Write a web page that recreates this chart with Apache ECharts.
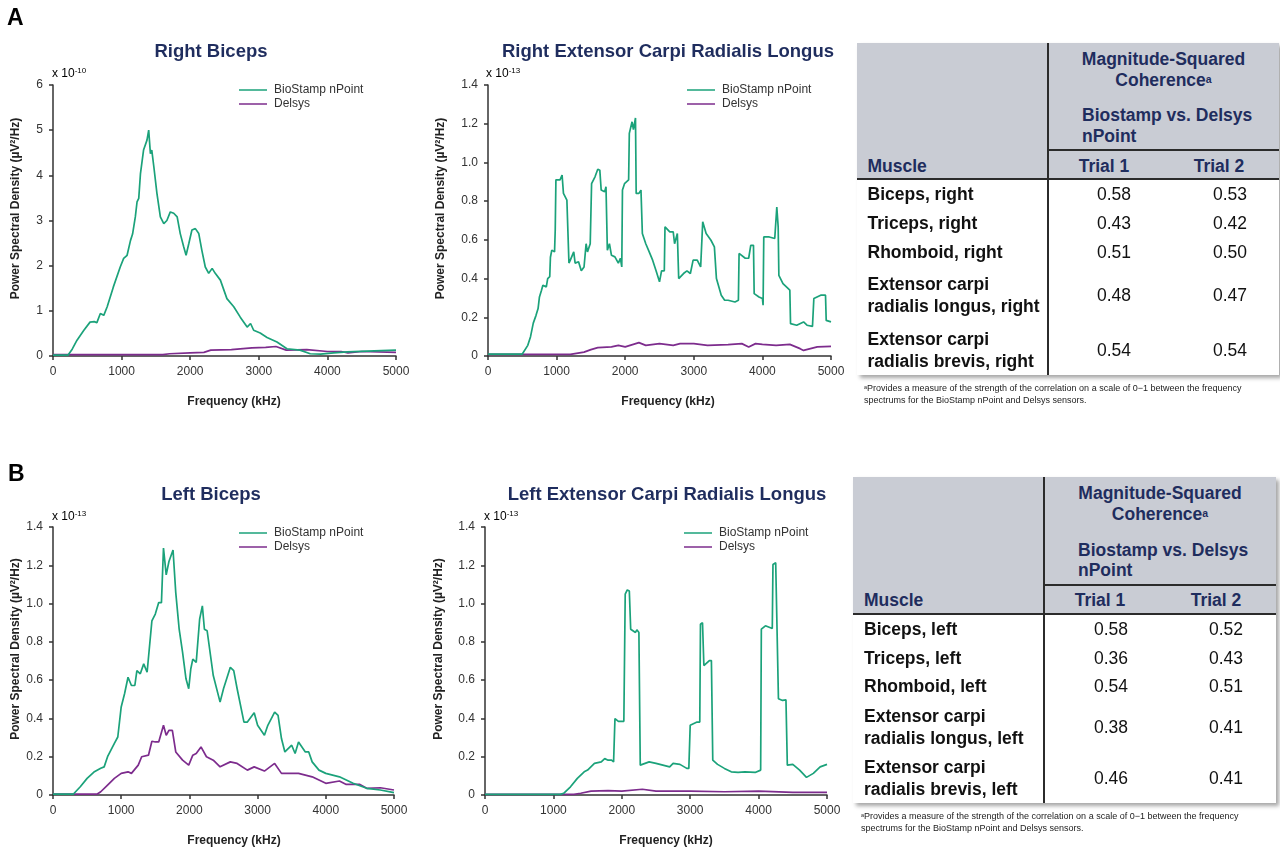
<!DOCTYPE html>
<html><head><meta charset="utf-8">
<script src="https://cdn.jsdelivr.net/npm/echarts@6/dist/echarts.min.js"></script>
<style>
html,body{margin:0;padding:0;background:#fff;}
#chart{position:absolute;left:0;top:0;width:1280px;height:848px;}
.tbl{position:absolute;background:#fff;box-shadow:3px 3px 4px rgba(0,0,0,0.35);font-family:'Liberation Sans',Arial,sans-serif;}
.hdr{position:absolute;left:0;top:0;background:#c9ccd4;}
.ln{position:absolute;background:#2b2b2b;}
.t{position:absolute;white-space:nowrap;line-height:20px;height:20px;font-size:17.5px;}
.h{color:#1f2d5e;font-weight:bold;}
.nm{color:#111;font-weight:bold;}
.v{color:#111;}
.c{transform:translateX(-50%);}
.fn{position:absolute;font-family:'Liberation Sans',Arial,sans-serif;font-size:9px;line-height:12px;color:#222;white-space:nowrap;}
sup{font-size:0.6em;vertical-align:top;position:relative;top:-1px;}
</style>
</head><body>
<div id="chart"></div>
<script>
// ---------- data ----------
// Right Biceps (x 1e-10)
var rbBioFreq = [0,220,280,350,450,540,600,640,690,740,790,880,980,1030,1080,1130,1160,1200,1225,1250,1275,1320,1370,1395,1420,1440,1470,1515,1565,1615,1660,1710,1760,1810,1855,1905,1940,1980,2025,2075,2125,2170,2220,2270,2320,2365,2440,2535,2635,2730,2830,2880,2925,3020,3120,3265,3410,3600,3750,3900,4090,4290,4580,5000];
var rbBio = [0.02,0.02,0.15,0.35,0.57,0.75,0.76,0.74,0.94,0.9,1.09,1.53,1.97,2.16,2.23,2.56,2.7,3.08,3.41,3.49,4.04,4.56,4.78,5.0,4.48,4.56,4.19,3.6,3.08,2.93,3.0,3.19,3.16,3.08,2.71,2.42,2.23,2.49,2.79,2.82,2.71,2.34,1.97,1.83,1.94,1.83,1.68,1.27,1.09,0.86,0.64,0.72,0.57,0.51,0.41,0.31,0.16,0.13,0.05,0.04,0.07,0.09,0.11,0.13];
var rbDelFreq = [0,1600,1700,2000,2200,2300,2600,2900,3100,3250,3400,3700,4000,4200,4300,4500,5000];
var rbDel = [0.03,0.03,0.05,0.07,0.08,0.13,0.14,0.18,0.19,0.21,0.13,0.14,0.1,0.1,0.07,0.1,0.08];

// Right Extensor Carpi Radialis Longus (x 1e-13)
var reBioFreq = [0,500,520,580,620,660,700,730,750,780,800,850,870,900,910,930,970,980,990,1050,1080,1100,1150,1180,1200,1250,1270,1320,1360,1400,1430,1450,1490,1510,1560,1600,1630,1650,1700,1720,1740,1770,1800,1850,1900,1930,1950,1960,1990,2050,2060,2100,2120,2150,2160,2200,2230,2250,2300,2350,2400,2450,2500,2530,2570,2580,2650,2700,2720,2760,2780,2850,2900,2950,2990,3050,3100,3130,3180,3250,3300,3330,3400,3450,3500,3600,3650,3660,3750,3800,3830,3870,3880,3950,4000,4010,4020,4100,4180,4210,4230,4240,4300,4400,4410,4500,4600,4650,4730,4750,4850,4920,4930,5000];
var reBio = [0.01,0.01,0.02,0.055,0.1,0.17,0.21,0.245,0.305,0.34,0.365,0.357,0.4,0.41,0.51,0.547,0.538,0.65,0.91,0.91,0.935,0.84,0.805,0.48,0.495,0.538,0.48,0.487,0.44,0.46,0.58,0.538,0.58,0.89,0.926,0.965,0.96,0.857,0.848,0.874,0.547,0.58,0.52,0.512,0.48,0.505,0.46,0.857,0.89,0.91,1.15,1.21,1.17,1.23,0.84,0.84,0.857,0.633,0.58,0.538,0.495,0.44,0.383,0.44,0.44,0.667,0.641,0.641,0.58,0.633,0.4,0.426,0.44,0.426,0.495,0.495,0.46,0.693,0.633,0.598,0.564,0.4,0.314,0.288,0.288,0.279,0.288,0.53,0.505,0.505,0.572,0.572,0.322,0.305,0.297,0.262,0.615,0.615,0.607,0.77,0.667,0.417,0.374,0.34,0.167,0.159,0.176,0.159,0.153,0.297,0.314,0.314,0.184,0.176];
var reDelFreq = [0,1200,1400,1500,1600,1800,1900,2000,2200,2300,2500,2700,2800,3000,3200,3500,3700,3800,3900,4000,4200,4400,4550,4600,4700,4800,5000];
var reDel = [0.008,0.008,0.02,0.033,0.043,0.047,0.055,0.047,0.069,0.055,0.064,0.055,0.064,0.064,0.055,0.059,0.064,0.047,0.064,0.06,0.055,0.06,0.038,0.029,0.038,0.047,0.05];

// Left Biceps (x 1e-13)
var lbBioFreq = [0,300,400,500,600,700,750,800,900,950,1000,1050,1100,1150,1200,1230,1280,1330,1380,1450,1500,1550,1590,1620,1660,1700,1760,1800,1850,1900,1950,1990,2020,2050,2100,2150,2190,2220,2260,2350,2450,2500,2600,2650,2700,2800,2850,2950,3000,3100,3150,3250,3300,3350,3400,3500,3550,3600,3700,3750,3800,3900,4000,4200,4400,4600,4800,5000];
var lbBio = [0.005,0.005,0.043,0.087,0.12,0.14,0.147,0.2,0.27,0.303,0.46,0.53,0.615,0.572,0.572,0.65,0.633,0.685,0.641,0.91,0.945,1.005,1.005,1.29,1.15,1.22,1.28,1.057,0.866,0.745,0.607,0.555,0.658,0.71,0.693,0.918,0.988,0.866,0.858,0.624,0.485,0.555,0.667,0.65,0.555,0.381,0.381,0.43,0.364,0.312,0.364,0.433,0.416,0.295,0.225,0.26,0.217,0.277,0.225,0.225,0.173,0.13,0.113,0.095,0.061,0.035,0.026,0.012];
var lbDelFreq = [0,650,700,800,900,1000,1100,1150,1250,1300,1400,1450,1500,1550,1620,1660,1700,1750,1800,1900,1990,2050,2100,2170,2250,2350,2450,2600,2700,2850,2950,3100,3250,3350,3450,3600,3800,3900,4000,4200,4300,4500,4600,4800,5000];
var lbDel = [0.005,0.005,0.017,0.052,0.087,0.113,0.121,0.113,0.156,0.2,0.208,0.281,0.277,0.277,0.364,0.312,0.338,0.338,0.225,0.182,0.156,0.208,0.217,0.251,0.2,0.182,0.147,0.173,0.165,0.13,0.147,0.125,0.165,0.113,0.113,0.113,0.095,0.078,0.061,0.073,0.055,0.055,0.035,0.038,0.026];

// Left Extensor Carpi Radialis Longus (x 1e-13)
var leBioFreq = [0,1100,1150,1250,1350,1450,1500,1600,1700,1750,1800,1850,1880,1900,1950,2030,2050,2080,2110,2130,2200,2220,2250,2270,2400,2500,2700,2750,2850,2950,2980,3000,3100,3140,3150,3180,3200,3280,3310,3330,3400,3500,3600,3700,3800,3950,4030,4040,4100,4200,4210,4250,4270,4290,4350,4400,4420,4500,4600,4700,4800,4900,5000];
var leBio = [0.003,0.003,0.009,0.043,0.087,0.121,0.13,0.165,0.173,0.19,0.182,0.182,0.173,0.399,0.385,0.385,1.049,1.071,1.066,0.866,0.849,0.863,0.849,0.156,0.173,0.165,0.147,0.165,0.16,0.139,0.139,0.364,0.381,0.381,0.892,0.9,0.676,0.702,0.702,0.182,0.16,0.139,0.121,0.118,0.121,0.118,0.13,0.866,0.884,0.87,1.204,1.213,1.204,0.503,0.494,0.497,0.156,0.16,0.13,0.092,0.113,0.147,0.16];
var leDelFreq = [0,1300,1400,1550,1800,2000,2300,2500,3000,3500,4000,4500,5000];
var leDel = [0.003,0.003,0.009,0.02,0.023,0.02,0.03,0.02,0.02,0.017,0.02,0.014,0.014];

var panelTitles = ['Right Biceps','Right Extensor Carpi Radialis Longus','Left Biceps','Left Extensor Carpi Radialis Longus'];
var exponents = ['-10','-13','-13','-13'];
var yMax = [6,1.4,1.4,1.4];
var yStep = [1,0.2,0.2,0.2];
var seriesNames = ['BioStamp nPoint','Delsys'];

// table data
var tblAMuscle = ['Biceps, right','Triceps, right','Rhomboid, right','Extensor carpi|radialis longus, right','Extensor carpi|radialis brevis, right'];
var tblATrial1 = [0.58,0.43,0.51,0.48,0.54];
var tblATrial2 = [0.53,0.42,0.50,0.47,0.54];
var tblBMuscle = ['Biceps, left','Triceps, left','Rhomboid, left','Extensor carpi|radialis longus, left','Extensor carpi|radialis brevis, left'];
var tblBTrial1 = [0.58,0.36,0.54,0.38,0.46];
var tblBTrial2 = [0.52,0.43,0.51,0.41,0.41];

// ---------- chart ----------
var FONT = "'Liberation Sans', Arial, sans-serif";
var GREEN = '#1ba27a', PURPLE = '#7d2c8d';
function zip(a,b){return a.map(function(x,i){return [x,b[i]];});}
var panels = [
  {bio:zip(rbBioFreq,rbBio), del:zip(rbDelFreq,rbDel), grid:{left:53,top:85,width:343,height:271}, title:[211,42], legend:[239,83], expo:[52,74], ytitle:15, xtitle:234},
  {bio:zip(reBioFreq,reBio), del:zip(reDelFreq,reDel), grid:{left:488,top:85,width:343,height:271}, title:[668,42], legend:[687,83], expo:[486,74], ytitle:440, xtitle:668},
  {bio:zip(lbBioFreq,lbBio), del:zip(lbDelFreq,lbDel), grid:{left:53,top:527,width:341,height:270}, title:[211,485], legend:[239,526], expo:[52,517], ytitle:15, xtitle:234},
  {bio:zip(leBioFreq,leBio), del:zip(leDelFreq,leDel), grid:{left:485,top:527,width:342,height:270}, title:[667,485], legend:[684,526], expo:[484,517], ytitle:438, xtitle:666}
];
var axisLineStyle = {color:'#333', width:1.5};
var option = {animation:false, backgroundColor:'#fff', textStyle:{fontFamily:FONT},
  grid:[], xAxis:[], yAxis:[], series:[], title:[], legend:[],
  graphic:[
    {type:'text', x:7, y:19, style:{text:'A', font:'bold 23px '+FONT, fill:'#000', verticalAlign:'middle'}},
    {type:'text', x:8, y:475, style:{text:'B', font:'bold 23px '+FONT, fill:'#000', verticalAlign:'middle'}}
  ]};
panels.forEach(function(p,i){
  option.grid.push(p.grid);
  option.xAxis.push({gridIndex:i, type:'value', min:0, max:5000, interval:1000,
    axisLine:{show:true, onZero:false, lineStyle:axisLineStyle},
    axisTick:{show:true, length:4, lineStyle:axisLineStyle},
    axisLabel:{fontSize:12, color:'#333', margin:10, fontFamily:FONT, formatter:function(v){return String(v);}},
    splitLine:{show:false},
    name:'Frequency (kHz)', nameLocation:'middle', nameGap:40,
    nameTextStyle:{fontSize:12, fontWeight:'bold', color:'#222', fontFamily:FONT, padding:[0,0,0,(p.xtitle-(p.grid.left+p.grid.width/2))*2]}
  });
  var step = yStep[i];
  option.yAxis.push({gridIndex:i, type:'value', min:0, max:yMax[i], interval:step,
    axisLine:{show:true, lineStyle:axisLineStyle},
    axisTick:{show:true, length:4, lineStyle:axisLineStyle},
    axisLabel:{fontSize:12, color:'#333', margin:10, fontFamily:FONT,
      formatter:function(v){ return v===0 ? '0' : (step<1 ? v.toFixed(1) : String(v)); }},
    splitLine:{show:false},
    name:'Power Spectral Density (µV²/Hz)', nameLocation:'middle', nameGap:p.grid.left-p.ytitle-7,
    nameTextStyle:{fontSize:12, fontWeight:'bold', color:'#222', fontFamily:FONT, padding:[0,0,0,24]}
  });
  option.series.push({name:seriesNames[1], type:'line', xAxisIndex:i, yAxisIndex:i, data:p.del, showSymbol:false, symbol:'none', lineStyle:{width:1.7, color:PURPLE}, itemStyle:{color:PURPLE}, z:2});
  option.series.push({name:seriesNames[0], type:'line', xAxisIndex:i, yAxisIndex:i, data:p.bio, showSymbol:false, symbol:'none', lineStyle:{width:1.7, color:GREEN}, itemStyle:{color:GREEN}, z:3});
  option.title.push({text:panelTitles[i], left:p.title[0], top:p.title[1], textAlign:'center', padding:0,
    textStyle:{fontSize:18.5, fontWeight:'bold', color:'#1f2d5e', fontFamily:FONT}});
  option.legend.push({data:seriesNames, orient:'vertical', left:p.legend[0], top:p.legend[1], padding:0,
    icon:'rect', itemWidth:28, itemHeight:1.5, itemGap:0, textStyle:{fontSize:12, color:'#333', fontFamily:FONT, padding:[0,0,0,2], lineHeight:14}});
  option.graphic.push({type:'text', x:p.expo[0], y:p.expo[1], style:{
    text:'{a|x 10}{b|'+exponents[i]+'}', verticalAlign:'middle',
    rich:{a:{fontSize:12, color:'#333', fontFamily:FONT, lineHeight:14}, b:{fontSize:8, color:'#333', fontFamily:FONT, verticalAlign:'top', lineHeight:14, padding:[0,0,6,0]}}}});
});
var chart = echarts.init(document.getElementById('chart'), null, {renderer:'canvas'});
chart.setOption(option);

// ---------- tables ----------
function el(parent, cls, css, html){var d=document.createElement('div'); d.className=cls; Object.assign(d.style,css); if(html!==undefined) d.innerHTML=html; parent.appendChild(d); return d;}
function buildTable(cfg){
  var t = el(document.body,'tbl',{left:cfg.left+'px',top:cfg.top+'px',width:cfg.w+'px',height:cfg.h+'px'});
  el(t,'hdr',{width:cfg.w+'px',height:cfg.hh+'px'});
  el(t,'ln',{left:'0px',top:(cfg.hh-1)+'px',width:cfg.w+'px',height:'2px'});
  el(t,'ln',{left:(cfg.div-0.75)+'px',top:'0px',width:'1.5px',height:cfg.h+'px'});
  el(t,'ln',{left:cfg.div+'px',top:(cfg.inner-0.75)+'px',width:(cfg.w-cfg.div)+'px',height:'1.5px'});
  var mid = (cfg.div+cfg.w)/2;
  function txt(cls,x,cy,html,center){ el(t,'t '+cls+(center?' c':''),{left:x+'px',top:(cy-10)+'px'},html); }
  txt('h',mid,cfg.hy[0],'Magnitude-Squared',true);
  txt('h',mid,cfg.hy[1],'Coherence<sup>a</sup>',true);
  txt('h',cfg.bx,cfg.hy[2],'Biostamp vs. Delsys');
  txt('h',cfg.bx,cfg.hy[3],'nPoint');
  txt('h',cfg.mx,cfg.hy[4],'Muscle');
  txt('h',cfg.t1x,cfg.hy[4],'Trial 1',true);
  txt('h',cfg.t2x,cfg.hy[4],'Trial 2',true);
  cfg.muscles.forEach(function(m,i){
    var parts = m.split('|'), cy = cfg.rows[i];
    if(parts.length===1){ txt('nm',cfg.mx,cy,parts[0]); }
    else { txt('nm',cfg.mx,cy-cfg.lg/2,parts[0]); txt('nm',cfg.mx,cy+cfg.lg/2,parts[1]); }
    txt('v',cfg.v1x,cy,cfg.t1[i].toFixed(2),true);
    txt('v',cfg.v2x,cy,cfg.t2[i].toFixed(2),true);
  });
  el(document.body,'fn',{left:cfg.fx+'px',top:cfg.fy+'px'},
    '<sup>a</sup>Provides a measure of the strength of the correlation on a scale of 0\u22121 between the frequency<br>spectrums for the BioStamp nPoint and Delsys sensors.');
}
buildTable({left:857,top:43,w:422,h:332,hh:136,div:191,inner:107,hy:[16,37,72,93,123],bx:225,mx:10.5,t1x:247,t2x:362,
  rows:[151,179.7,208.7,252,307],lg:22,v1x:257,v2x:373,muscles:tblAMuscle,t1:tblATrial1,t2:tblATrial2,fx:864,fy:382});
buildTable({left:853,top:477,w:423,h:326,hh:137,div:191,inner:108,hy:[16,37,73,93,123],bx:225,mx:11,t1x:247,t2x:363,
  rows:[152.3,180.7,209.3,249.7,301.3],lg:22,v1x:258,v2x:373,muscles:tblBMuscle,t1:tblBTrial1,t2:tblBTrial2,fx:861,fy:810});
</script>
</body></html>
